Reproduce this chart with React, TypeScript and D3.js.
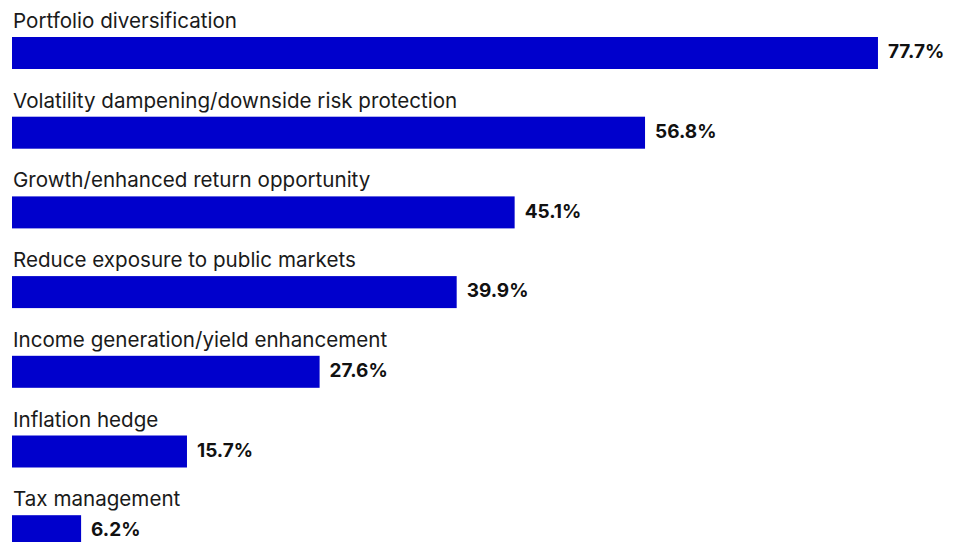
import React from "react";
import * as d3 from "d3";

const categories = [
  "Portfolio diversification",
  "Volatility dampening/downside risk protection",
  "Growth/enhanced return opportunity",
  "Reduce exposure to public markets",
  "Income generation/yield enhancement",
  "Inflation hedge",
  "Tax management",
];
const values = [77.7, 56.8, 45.1, 39.9, 27.6, 15.7, 6.2];

const W = 960;
const H = 542;

export default function App() {
  const x = d3.scaleLinear().domain([0, 100]).range([12, 12 + 1114.5]);
  const y = d3.scaleBand<string>().domain(categories).range([17, 17 + 79.7 * categories.length]).padding(0);
  const barTop = 20;
  const barH = 32;
  return (
    <svg
      width={W}
      height={H}
      style={{ position: "absolute", left: 0, top: 0, display: "block", background: "#fff" }}
    >
      {categories.map((c, i) => {
        const y0 = y(c)!;
        return (
          <g key={c}>
            <text
              x={13}
              y={y0 + barTop - 9}
              fontFamily="Inter, sans-serif"
              fontSize={20.6}
              fill="#1a1a1a"
            >
              {c}
            </text>
            <rect x={x(0)} y={y0 + barTop} width={x(values[i]) - x(0)} height={barH} fill="#0000CC" />
            <text
              x={x(values[i]) + 10}
              y={y0 + barTop + 14.5}
              dy="0.35em"
              fontFamily="Inter, sans-serif"
              fontWeight={700}
              fontSize={19}
              fill="#111"
            >
              {d3.format(".1f")(values[i])}%
            </text>
          </g>
        );
      })}
    </svg>
  );
}
